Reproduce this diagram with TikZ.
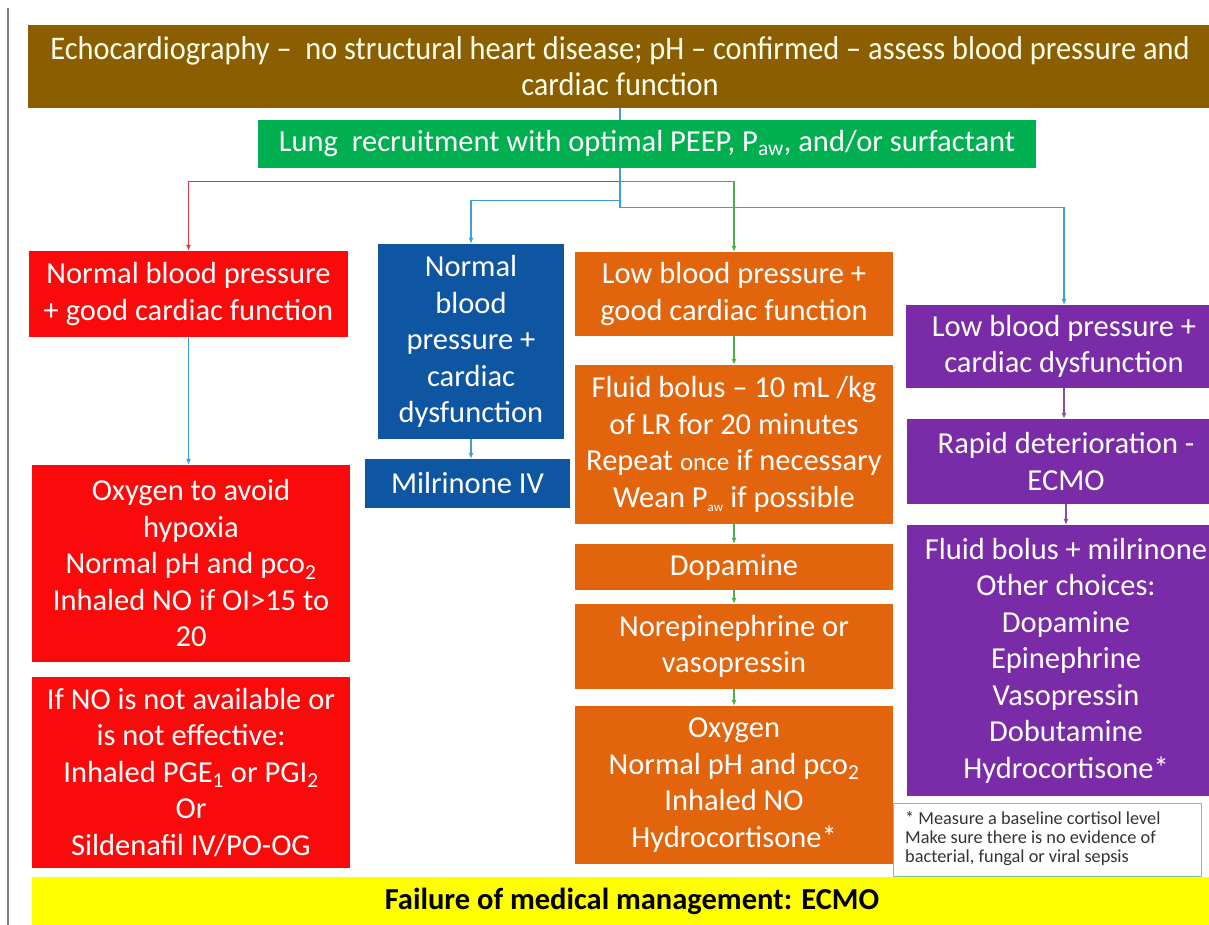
\documentclass[tikz,border=0pt]{standalone}
\usepackage{fontspec}
\setmainfont{Carlito}
\usetikzlibrary{arrows.meta}
\definecolor{cBrown}{HTML}{8B5E02}
\definecolor{cGreen}{HTML}{00B050}
\definecolor{cRed}{HTML}{FA0A0A}
\definecolor{cBlue}{HTML}{0F56A2}
\definecolor{cOrange}{HTML}{E2640C}
\definecolor{cPurple}{HTML}{7A2CA8}
\definecolor{cYellow}{HTML}{FFFF00}
\definecolor{lBlue}{HTML}{3E9ED8}
\definecolor{lRed}{HTML}{E0383C}
\definecolor{lGreen}{HTML}{4DAE4A}
\definecolor{lPurple}{HTML}{8A4AA8}
\definecolor{noteLine}{HTML}{8CC08A}
\definecolor{noteText}{HTML}{333333}
\begin{document}
\begin{tikzpicture}[x=1pt,y=-1pt,
  box/.style={fill=#1, draw=none, text=white, align=center, inner sep=0pt,
    font=\fontsize{30.5}{36.5}\selectfont},
  conn/.style={draw=#1, line width=1.1pt, -{Latex[length=6pt,width=5pt]}},
  plain/.style={draw=#1, line width=1.1pt}]
\useasboundingbox (0,0) rectangle (1209,924);
\clip (0,0) rectangle (1209,924);
\fill[white] (0,0) rectangle (1209,924);
\draw[gray, line width=1.5pt] (8,8) -- (8,930);

% header
\node[box=cBrown, minimum width=1184pt, minimum height=83pt,
  font=\fontsize{33}{36}\selectfont, text=white!92!yellow] (brown) at (620,66.5)
  {\scalebox{0.92}[1]{Echocardiography –\ \ no structural heart disease; pH – confirmed – assess blood pressure and}\\
   \scalebox{0.92}[1]{cardiac function}};
\node[box=cGreen, minimum width=778pt, minimum height=48pt] (green) at (647,144)
  {Lung\ \ recruitment with optimal PEEP, P\textsubscript{aw}, and/or surfactant};

% red column
\node[box=cRed, minimum width=319pt, minimum height=86pt] (r1) at (188.5,294)
  {Normal blood pressure\\+ good cardiac function};
\node[box=cRed, minimum width=318pt, minimum height=197pt] (r2) at (191,563.5)
  {Oxygen to avoid\\hypoxia\\Normal pH and pco\textsubscript{2}\\Inhaled NO if OI>15 to\\20};
\node[box=cRed, minimum width=318pt, minimum height=191pt] (r3) at (191,772.5)
  {If NO is not available or\\is not effective:\\Inhaled PGE\textsubscript{1} or PGI\textsubscript{2}\\Or\\Sildenafil IV/PO-OG};

% blue column
\node[box=cBlue, minimum width=186pt, minimum height=195pt] (b1) at (471,341.5)
  {Normal\\blood\\pressure +\\cardiac\\dysfunction};
\node[box=cBlue, minimum width=205pt, minimum height=49pt] (b2) at (467.5,483.5)
  {Milrinone IV};

% orange column
\node[box=cOrange, minimum width=318pt, minimum height=84pt] (o1) at (734,294)
  {Low blood pressure +\\good cardiac function};
\node[box=cOrange, minimum width=318pt, minimum height=159pt] (o2) at (734,444.5)
  {Fluid bolus – 10 mL /kg\\of LR for 20 minutes\\Repeat {\fontsize{25}{26}\selectfont once} if necessary\\Wean P\textsubscript{\fontsize{13}{13}\selectfont aw} if possible};
\node[box=cOrange, minimum width=318pt, minimum height=46pt] (o3) at (734,567)
  {Dopamine};
\node[box=cOrange, minimum width=318pt, minimum height=85pt] (o4) at (734,646.5)
  {Norepinephrine or\\vasopressin};
\node[box=cOrange, minimum width=318pt, minimum height=158pt] (o5) at (734,785)
  {Oxygen\\Normal pH and pco\textsubscript{2}\\Inhaled NO\\Hydrocortisone*};

% purple column
\node[box=cPurple, minimum width=316pt, minimum height=83pt] (p1) at (1064,346.5)
  {Low blood pressure +\\cardiac dysfunction};
\node[box=cPurple, minimum width=318pt, minimum height=85pt] (p2) at (1066,461.5)
  {Rapid deterioration -\\ECMO};
\node[box=cPurple, minimum width=318pt, minimum height=271pt] (p3) at (1066,660.5)
  {Fluid bolus + milrinone\\Other choices:\\Dopamine\\Epinephrine\\Vasopressin\\Dobutamine\\Hydrocortisone*};

% note
\node[draw=noteLine, line width=0.8pt, fill=white, minimum width=308pt, minimum height=73pt,
  inner sep=0pt] (note) at (1047,839.5) {};
\node[anchor=north west, inner sep=0pt, align=left, text=noteText,
  font=\fontsize{18.3}{19}\selectfont] (notetext) at (905,811)
  {* Measure a baseline cortisol level\\Make sure there is no evidence of\\bacterial, fungal or viral sepsis};

% bottom
\node[box=cYellow, text=black, minimum width=1200pt, minimum height=48pt,
  font=\fontsize{30.5}{32}\bfseries\selectfont] (yellow) at (632,901)
  {Failure of medical management: ECMO};

% connectors
\draw[plain=lBlue] (brown.south) -- (brown.south |- green.north);
\coordinate (j) at (brown.south |- green.south);
\draw[conn=lRed] (j) ++(0,13) -| (r1.north);
\draw[conn=lGreen] (j) ++(0,13) -| (o1.north);
\draw[conn=lBlue] (j) ++(0,32) -| (b1.north);
\draw[conn=lBlue] (j) -- ++(0,39) -| (p1.north);
\draw[conn=lBlue] (r1.south) -- (r1.south |- r2.north);
\draw[conn=lBlue] (b1.south) -- (b1.south |- b2.north);
\draw[conn=lGreen] (o1.south) -- (o2.north);
\draw[conn=lGreen] (o2.south) -- (o3.north);
\draw[conn=lGreen] (o3.south) -- (o4.north);
\draw[conn=lGreen] (o4.south) -- (o5.north);
\draw[conn=lPurple] (p1.south) -- (p1.south |- p2.north);
\draw[conn=lPurple] (p2.south) -- (p2.south |- p3.north);
\end{tikzpicture}
\end{document}
